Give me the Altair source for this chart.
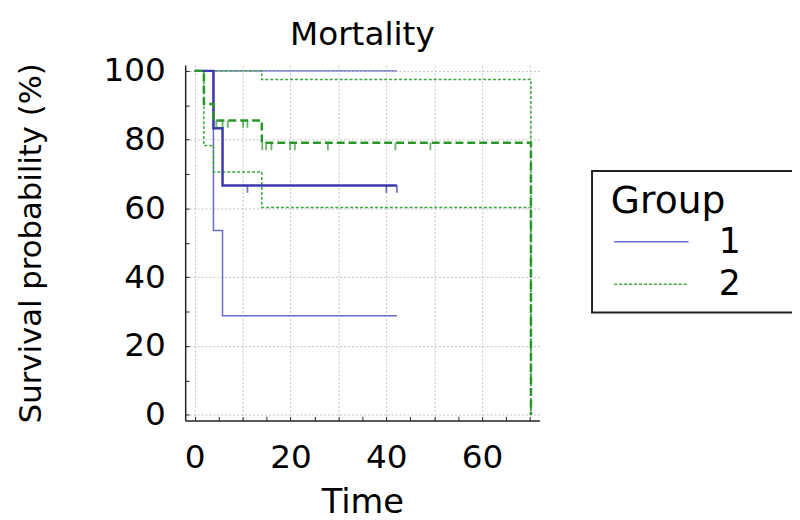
import altair as alt
import pandas as pd

# ---- Kaplan-Meier estimates (Time, survival %) ----
groups = ["1", "2"]

g1_km_time = [0, 3.9, 5.8, 42.2]
g1_km_surv = [100, 83.3, 66.7, 66.7]
g1_hi_time = [0, 42.2]
g1_hi_surv = [100, 100]
g1_lo_time = [0, 3.9, 5.8, 42.2]
g1_lo_surv = [100, 53.6, 28.8, 28.8]

g2_km_time = [0, 1.9, 3.9, 14.0, 70.2, 70.2]
g2_km_surv = [100, 90.4, 85.6, 79.1, 79.1, 0]
g2_hi_time = [0, 14.0, 70.2, 70.2]
g2_hi_surv = [100, 97.5, 97.5, 0]
g2_lo_time = [0, 1.9, 3.9, 14.0, 70.2, 70.2]
g2_lo_surv = [100, 78.3, 70.6, 60.3, 60.3, 0]

# censored observations
g1_cens_time = [11.0, 40.0, 42.2]
g1_cens_surv = [66.7, 66.7, 66.7]
g2_cens_time = [4.5, 5.8, 6.9, 10.1, 11.0, 14.1, 14.9, 16.0, 19.9, 20.9, 27.8, 41.9, 49.2]
g2_cens_surv = [85.6, 85.6, 85.6, 85.6, 85.6, 79.1, 79.1, 79.1, 79.1, 79.1, 79.1, 79.1, 79.1]

# axis values
x_grid = [0, 10, 20, 30, 40, 50, 60, 70]
x_minor = [0, 5, 10, 15, 20, 25, 30, 35, 40, 45, 50, 55, 60, 65, 70]
y_grid = [0, 20, 40, 60, 80, 100]
y_minor = [0, 10, 20, 30, 40, 50, 60, 70, 80, 90, 100]


def frame(times, survs, group, series):
    return pd.DataFrame({
        "time": times,
        "surv": survs,
        "group": group,
        "series": series,
        "idx": list(range(len(times))),
    })


ci_df = pd.concat([
    frame(g1_hi_time, g1_hi_surv, "1", "1-hi"),
    frame(g1_lo_time, g1_lo_surv, "1", "1-lo"),
    frame(g2_hi_time, g2_hi_surv, "2", "2-hi"),
    frame(g2_lo_time, g2_lo_surv, "2", "2-lo"),
], ignore_index=True)
km1_df = frame(g1_km_time, g1_km_surv, "1", "1-km")
km2_df = frame(g2_km_time, g2_km_surv, "2", "2-km")
c1_df = frame(g1_cens_time, g1_cens_surv, "1", "1-c")
c2_df = frame(g2_cens_time, g2_cens_surv, "2", "2-c")

FONT = "DejaVu Sans"
xs = alt.Scale(domain=[-2, 72], nice=False, zero=False)
ys = alt.Scale(domain=[-1.6, 101.7], nice=False, zero=False)

main_x = alt.Axis(
    values=x_grid, labelExpr="datum.value % 20 == 0 ? datum.label : ''",
    grid=True, gridDash=[2, 2], gridColor="#c2c2c2", gridWidth=1,
    ticks=False, tickSize=0, domainColor="#222222", domainWidth=1.5,
    labelFont=FONT, labelFontSize=33, labelColor="#000000", labelPadding=48,
    labelBaseline="alphabetic", labelOverlap=False,
    title="Time", titleFont=FONT, titleFontSize=34, titleFontWeight="normal",
    titleColor="#000000", titleY=93, titleBaseline="alphabetic",
)
main_y = alt.Axis(
    values=y_grid, grid=True, gridDash=[2, 2], gridColor="#c2c2c2", gridWidth=1,
    ticks=False, tickSize=0, domainColor="#222222", domainWidth=1.5,
    labelFont=FONT, labelFontSize=33, labelColor="#000000", labelPadding=20,
    labelOverlap=False,
    title="Survival probability (%)", titleFont=FONT, titleFontSize=31,
    titleFontWeight="normal", titleColor="#000000", titleX=-146,
    titleBaseline="alphabetic",
)
tick_x = alt.Axis(orient="top", offset=-359, values=x_minor, labels=False,
                  domain=False, grid=False, ticks=True, tickSize=4,
                  tickColor="#222222", tickWidth=1, title=None)
tick_y = alt.Axis(orient="right", offset=-358, values=y_minor, labels=False,
                  domain=False, grid=False, ticks=True, tickSize=4,
                  tickColor="#222222", tickWidth=1, title=None)

# long horizontal line symbol (about 75 px long)
legend = alt.Legend(
    title="Group", orient="none", legendX=430, legendY=119, padding=0,
    titleFont=FONT, titleFontSize=38, titleFontWeight="normal", titleColor="#000000",
    titlePadding=4,
    labelFont=FONT, labelFontSize=35, labelColor="#000000",
    symbolType="M-1.5,0H6.5", symbolSize=352, symbolStrokeWidth=1.6,
    labelOffset=74, rowPadding=7,
)

ci_layer = alt.Chart(ci_df).mark_line(interpolate="step-after", strokeWidth=1.5).encode(
    x=alt.X("time:Q", scale=xs, axis=main_x),
    y=alt.Y("surv:Q", scale=ys, axis=main_y),
    color=alt.Color("group:N", scale=alt.Scale(domain=groups, range=["#6a6ac8", "#3aa83a"]),
                    legend=legend),
    strokeDash=alt.StrokeDash("group:N", scale=alt.Scale(domain=groups, range=[[1, 0], [3, 2]]),
                              legend=legend),
    detail="series:N",
    order="idx:Q",
)

km1_layer = alt.Chart(km1_df).mark_line(
    interpolate="step-after", strokeWidth=2.5, color="#3a3aae"
).encode(
    x=alt.X("time:Q", scale=xs, axis=None),
    y=alt.Y("surv:Q", scale=ys, axis=None),
    order="idx:Q",
)
km2_layer = alt.Chart(km2_df).mark_line(
    interpolate="step-after", strokeWidth=2.5, color="#2a962a", strokeDash=[8, 4]
).encode(
    x=alt.X("time:Q", scale=xs, axis=None),
    y=alt.Y("surv:Q", scale=ys, axis=None),
    order="idx:Q",
)
c1_layer = alt.Chart(c1_df).mark_tick(
    orient="vertical", size=7.5, thickness=1.8, yOffset=3.75, color="#3a3aae"
).encode(
    x=alt.X("time:Q", scale=xs, axis=tick_x),
    y=alt.Y("surv:Q", scale=ys, axis=tick_y),
)
c2_layer = alt.Chart(c2_df).mark_tick(
    orient="vertical", size=7.5, thickness=1.8, yOffset=3.75, color="#2a962a"
).encode(
    x=alt.X("time:Q", scale=xs, axis=None),
    y=alt.Y("surv:Q", scale=ys, axis=None),
)

# frame around the legend (extends past the right edge, as in the reference)
legend_box = alt.Chart(pd.DataFrame({"k": [0]})).mark_rect(
    fillOpacity=0, stroke="#222222", strokeWidth=2
).encode(
    x=alt.value(411), x2=alt.value(660), y=alt.value(107), y2=alt.value(250)
)

chart = alt.layer(ci_layer, km1_layer, km2_layer, c1_layer, c2_layer, legend_box).resolve_axis(
    x="independent", y="independent"
).properties(
    width=358,
    height=359,
    title=alt.TitleParams("Mortality", font=FONT, fontSize=33, fontWeight="normal",
                          color="#000000", anchor="middle", frame="group",
                          baseline="alphabetic", offset=-23),
    autosize=alt.AutoSizeParams(type="none"),
    padding={"left": 179, "top": 55, "right": 255, "bottom": 98},
).configure_view(stroke=None)

chart.save("out.html", embed_options={"renderer": "svg", "actions": False})
